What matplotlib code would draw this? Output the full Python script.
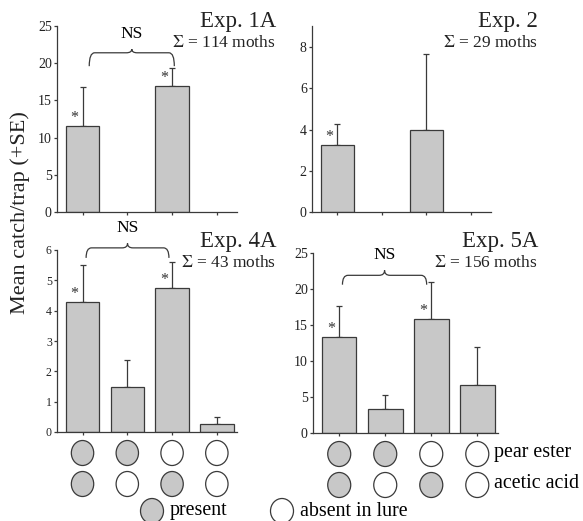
import numpy as np
import matplotlib
matplotlib.use("Agg")
import matplotlib.pyplot as plt
from matplotlib.patches import Ellipse
from matplotlib.path import Path
from matplotlib.patches import PathPatch
import matplotlib.transforms as mtrans

plt.rcParams["font.family"] = ["Liberation Serif", "DejaVu Serif"]
plt.rcParams["mathtext.fontset"] = "stix"

# ── Data ──────────────────────────────────────────────────────────────────────
positions = [0, 1, 2, 3]

exp_names = ["Exp. 1A", "Exp. 2", "Exp. 4A", "Exp. 5A"]
exp_totals = [114, 29, 43, 156]

means_1a = [11.5, np.nan, 17.0, np.nan]
upper_1a = [16.8, np.nan, 19.4, np.nan]
means_2 = [3.25, np.nan, 4.0, np.nan]
upper_2 = [4.25, np.nan, 7.65, np.nan]
means_4a = [4.27, 1.5, 4.75, 0.25]
upper_4a = [5.52, 2.38, 5.62, 0.5]
means_5a = [13.4, 3.3, 15.9, 6.7]
upper_5a = [17.6, 5.3, 21.0, 12.0]

signif_1a = [1, 0, 1, 0]
signif_2 = [1, 0, 0, 0]
signif_4a = [1, 0, 1, 0]
signif_5a = [1, 0, 1, 0]

y_max = [25, 9, 6, 25]
y_ticks = [[0, 5, 10, 15, 20, 25], [0, 2, 4, 6, 8],
           [0, 1, 2, 3, 4, 5, 6], [0, 5, 10, 15, 20, 25]]

# lure composition (1 = present)
pear_ester = [1, 1, 0, 0]
acetic_acid = [1, 0, 1, 0]

GRAY = "#c8c8c8"
EDGE = "#3a3a3a"
W, H = 583, 521


def fx(x):
    return x / W


def fy(y):
    return 1 - y / H


def add_axes_px(fig, left, right, top, bottom):
    return fig.add_axes([fx(left), fy(bottom), (right - left) / W, (bottom - top) / H])


def draw_brace(ax, x0, x1, y_end, y_top, y_tip):
    xc = (x0 + x1) / 2
    dx = 0.12
    verts = [(x0, y_end), (x0, y_top), (x0 + dx, y_top),
             (xc - dx, y_top), (xc, y_top), (xc, y_tip),
             (xc, y_top), (xc + dx, y_top),
             (x1 - dx, y_top), (x1, y_top), (x1, y_end)]
    codes = [Path.MOVETO, Path.CURVE3, Path.CURVE3,
             Path.LINETO, Path.CURVE3, Path.CURVE3,
             Path.CURVE3, Path.CURVE3,
             Path.LINETO, Path.CURVE3, Path.CURVE3]
    ax.add_patch(PathPatch(Path(verts, codes), fill=False, lw=0.9,
                           edgecolor=EDGE, clip_on=False))


def draw_panel(ax, means, upper, signif, ymax, ticks, tick_fs):
    means = np.array(means, dtype=float)
    upper = np.array(upper, dtype=float)
    ok = ~np.isnan(means)
    x = np.array(positions)[ok]
    ax.bar(x, means[ok], width=0.75, color=GRAY, edgecolor=EDGE, lw=0.9, zorder=2)
    err = upper[ok] - means[ok]
    ax.errorbar(x, means[ok], yerr=[np.zeros_like(err), err], fmt="none",
                ecolor=EDGE, elinewidth=0.9, capsize=2.2, capthick=0.9, zorder=1)
    for xi, m, s in zip(positions, means, signif):
        if s:
            ax.annotate("*", (xi, m), xytext=(-6, 0), textcoords="offset points",
                        ha="center", va="bottom", fontsize=11.5, color="#333333")
    ax.set_xlim(-0.57, 3.45)
    ax.set_ylim(0, ymax)
    ax.set_xticks(positions)
    ax.set_xticklabels([])
    ax.set_yticks(ticks)
    ax.tick_params(direction="out", length=2.5, width=0.9, colors=EDGE,
                   labelsize=tick_fs, labelcolor="#222222", pad=1.2)
    for side in ["top", "right"]:
        ax.spines[side].set_visible(False)
    for side in ["left", "bottom"]:
        ax.spines[side].set_color(EDGE)
        ax.spines[side].set_linewidth(0.9)


def draw_lure_rows(ax, ax_h_px):
    trans = mtrans.blended_transform_factory(ax.transData, ax.transAxes)
    for row, off in zip([pear_ester, acetic_acid], [21, 52]):
        for xi, present in zip(positions, row):
            ax.add_patch(Ellipse((xi, -off / ax_h_px), 0.5, 25 / ax_h_px,
                                 transform=trans, clip_on=False,
                                 facecolor=GRAY if present else "white",
                                 edgecolor=EDGE, lw=0.9))


fig = plt.figure(figsize=(W / 100, H / 100), dpi=100)
fig.patch.set_facecolor("white")

ax1 = add_axes_px(fig, 57, 237, 26, 212)
ax2 = add_axes_px(fig, 312, 491, 26.4, 212)
ax3 = add_axes_px(fig, 57, 237, 250, 432)
ax4 = add_axes_px(fig, 313, 498, 253, 433)

draw_panel(ax1, means_1a, upper_1a, signif_1a, y_max[0], y_ticks[0], 10)
draw_panel(ax2, means_2, upper_2, signif_2, y_max[1], y_ticks[1], 10)
draw_panel(ax3, means_4a, upper_4a, signif_4a, y_max[2], y_ticks[2], 8.5)
draw_panel(ax4, means_5a, upper_5a, signif_5a, y_max[3], y_ticks[3], 10)

# NS braces
draw_brace(ax1, 0.15, 2.05, 19.6, 21.4, 21.9)
ax1.text(1.1, 22.9, "NS", ha="center", va="bottom", fontsize=12.5)
draw_brace(ax3, 0.08, 1.93, 5.74, 6.07, 6.22)
ax3.text(1.0, 6.45, "NS", ha="center", va="bottom", fontsize=12.5, clip_on=False)
draw_brace(ax4, 0.07, 1.9, 20.6, 21.9, 22.6)
ax4.text(0.98, 23.6, "NS", ha="center", va="bottom", fontsize=12.5)

# titles
for name, total, xr, yb in zip(exp_names, exp_totals, [276, 538, 276, 538], [27, 27, 247, 247]):
    fig.text(fx(xr), fy(yb), name, ha="right", va="baseline", fontsize=16.5, color="#222222")
    fig.text(fx(xr), fy(yb + 20), r"$\Sigma$ = %d moths" % total, ha="right",
             va="baseline", fontsize=12.5, color="#222222")

# lure composition circles
draw_lure_rows(ax3, 182)
draw_lure_rows(ax4, 180)
fig.text(fx(494), fy(453), "pear ester", ha="left", va="center", fontsize=14.4)
fig.text(fx(494), fy(484), "acetic acid", ha="left", va="center", fontsize=14.4)

# bottom legend
for xc, present, label in zip([152, 282], [1, 0], ["present", "absent in lure"]):
    fig.patches.append(Ellipse((fx(xc), fy(511)), 23 / W, 25 / H, transform=fig.transFigure,
                               facecolor=GRAY if present else "white", edgecolor=EDGE, lw=0.9))
    fig.text(fx(xc + 18), fy(511), label, ha="left", va="center", fontsize=14.4)

fig.text(fx(20), fy(213), "Mean catch/trap (+SE)", rotation=90, ha="center", va="center",
         fontsize=16, color="#222222")

fig.savefig("out.png", dpi=100, facecolor="white")
